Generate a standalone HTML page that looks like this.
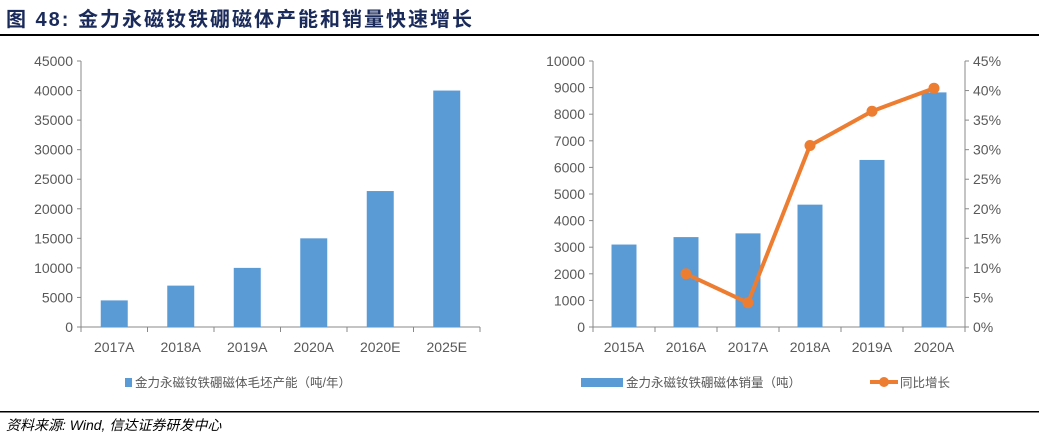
<!DOCTYPE html>
<html><head><meta charset="utf-8"><style>
body{margin:0;background:#fff;}
svg{display:block;font-family:"Liberation Sans","Noto Sans CJK SC",sans-serif;}
</style></head><body>
<svg id="c" width="1039" height="438">
<text x="6" y="26" font-size="20" font-weight="bold" letter-spacing="2" fill="#1a2a5a">图 48: 金力永磁钕铁硼磁体产能和销量快速增长</text>
<rect x="0" y="34" width="1039" height="2" fill="#000"/>
<rect x="0" y="411" width="1039" height="1.5" fill="#000"/>
<text x="6" y="430" font-size="14" font-style="italic" fill="#000">资料来源: Wind, 信达证券研发中心</text>
<g id="left"></g>
<g id="right"></g>
<rect x="125" y="378" width="7" height="9" fill="#5b9bd5"/>
<text x="135" y="387" font-size="12.5" fill="#595959">金力永磁钕铁硼磁体毛坯产能（吨/年）</text>
<rect x="581" y="378" width="42" height="9" fill="#5b9bd5"/>
<text x="626" y="387" font-size="12.5" fill="#595959">金力永磁钕铁硼磁体销量（吨）</text>
<line x1="870" y1="382" x2="898" y2="382" stroke="#ed7d31" stroke-width="4"/>
<circle cx="884" cy="382" r="5" fill="#ed7d31"/>
<text x="900" y="387" font-size="12.5" fill="#595959">同比增长</text>
</svg>
<script>
const capCats=["2017A","2018A","2019A","2020A","2020E","2025E"];
const capVals=[4500,7000,10000,15000,23000,40000];
const capTicks=[0,5000,10000,15000,20000,25000,30000,35000,40000,45000];
const salesCats=["2015A","2016A","2017A","2018A","2019A","2020A"];
const salesVals=[3100,3380,3520,4600,6280,8820];
const growthVals=[null,9.0,4.1,30.7,36.5,40.4];
const salesTicks=[0,1000,2000,3000,4000,5000,6000,7000,8000,9000,10000];
const pctTicks=[0,5,10,15,20,25,30,35,40,45];
const NS="http://www.w3.org/2000/svg";
function mk(p,t,a){const e=document.createElementNS(NS,t);for(const k in a)e.setAttribute(k,a[k]);p.appendChild(e);return e;}
const y0=327,yTop=61;
function chart(g,x0,x1,cats,vals,ticks,max,bw){
  const ys=v=>y0-(v/max)*(y0-yTop);
  const step=(x1-x0)/cats.length;
  const ax=mk(g,"line",{x1:x0,y1:yTop,x2:x0,y2:y0,stroke:"#888"});
  
  
  ticks.forEach(t=>{
    const y=ys(t);
    mk(g,"line",{x1:x0-4,y1:y,x2:x0,y2:y,stroke:"#888"});
    const tx=mk(g,"text",{x:x0-8,y:y+5,"font-size":"14","text-anchor":"end",fill:"#595959"});
    tx.textContent=t;
    
    
  });
  const bx=mk(g,"line",{x1:x0,y1:y0,x2:x1,y2:y0,stroke:"#888"});
  
  
  for(let i=0;i<=cats.length;i++)mk(g,"line",{x1:x0+i*step,y1:y0,x2:x0+i*step,y2:y0+5,stroke:"#888"});
  cats.forEach((c,i)=>{
    const cx=x0+(i+0.5)*step;
    const r=mk(g,"rect",{x:cx-bw/2,y:ys(vals[i]),width:bw,height:y0-ys(vals[i]),fill:"#5b9bd5"});
    
    
    const t=mk(g,"text",{x:cx,y:352,"font-size":"14","text-anchor":"middle",fill:"#595959"});
    t.textContent=c;
    
    
  });
  return step;
}
chart(document.getElementById("left"),81,480,capCats,capVals,capTicks,45000,27);
const R=document.getElementById("right");
const x0=593,x1=965;
const step=chart(R,x0,x1,salesCats,salesVals,salesTicks,10000,25);
const yp=v=>y0-(v/45)*(y0-yTop);
const ra=mk(R,"line",{x1:x1,y1:yTop,x2:x1,y2:y0,stroke:"#888"});


pctTicks.forEach(t=>{
  const y=yp(t);
  mk(R,"line",{x1:x1,y1:y,x2:x1+4,y2:y,stroke:"#888"});
  const tx=mk(R,"text",{x:x1+8,y:y+5,"font-size":"14",fill:"#595959"});
  tx.textContent=t+"%";
  
  
});
let pts=[];
growthVals.forEach((v,i)=>{if(v!==null)pts.push([x0+(i+0.5)*step,yp(v)]);});
const pl=mk(R,"polyline",{points:pts.map(p=>p.join(",")).join(" "),fill:"none",stroke:"#ed7d31","stroke-width":"4","stroke-linejoin":"round"});


pts.forEach(p=>{
  const c=mk(R,"circle",{cx:p[0],cy:p[1],r:5.5,fill:"#ed7d31"});
  
  
});
</script>
</body></html>
